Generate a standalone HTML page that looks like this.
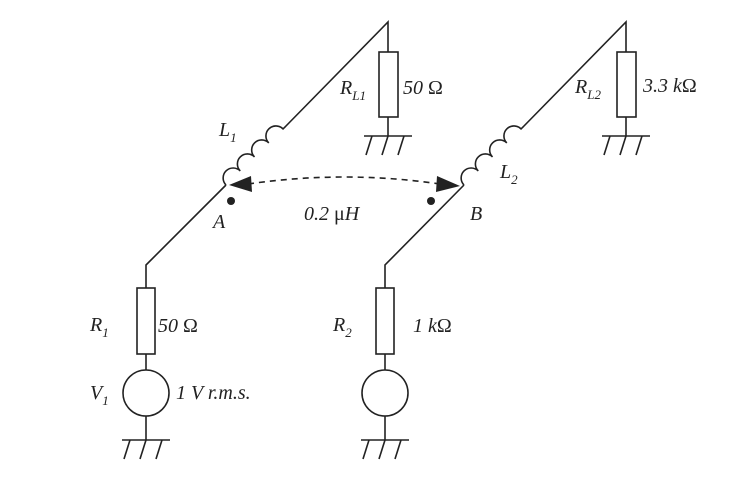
<!DOCTYPE html>
<html><head><style>body{margin:0;background:#fff}svg{display:block}text{font-family:"Liberation Serif",serif;font-style:italic;font-size:20px;fill:#222}.u{font-style:normal}</style></head><body>
<svg width="754" height="493" viewBox="0 0 754 493" xmlns="http://www.w3.org/2000/svg">
<defs>
<g id="gnd" stroke="#222" stroke-width="1.6" fill="none">
<line x1="-24" y1="0" x2="24" y2="0"/>
<line x1="-16" y1="0" x2="-22" y2="19"/><line x1="0" y1="0" x2="-6" y2="19"/><line x1="16" y1="0" x2="10" y2="19"/>
</g>
<g id="coil" stroke="#222" stroke-width="1.6" fill="none">
<path d="M0,0 a10,10 0 0 1 20,0 a10,10 0 0 1 20,0 a10,10 0 0 1 20,0 a10,10 0 0 1 20,0 l3,0"/>
</g>
</defs>
<g stroke="#222" stroke-width="1.6" fill="none">
<polyline points="146,288 146,265 226,185"/>
<rect x="137" y="288" width="18" height="66"/>
<line x1="146" y1="354" x2="146" y2="370"/>
<circle cx="146" cy="393" r="23"/>
<line x1="146" y1="416" x2="146" y2="440"/>
<polyline points="285,127 388,22 388,52"/>
<rect x="379" y="52" width="19" height="65"/>
<line x1="388" y1="117" x2="388" y2="136"/>
<polyline points="385,288 385,265 464,185"/>
<rect x="376" y="288" width="18" height="66"/>
<line x1="385" y1="354" x2="385" y2="370"/>
<circle cx="385" cy="393" r="23"/>
<line x1="385" y1="416" x2="385" y2="440"/>
<polyline points="523,127 626,22 626,52"/>
<rect x="617" y="52" width="19" height="65"/>
<line x1="626" y1="117" x2="626" y2="136"/>
<path d="M248,184 Q345,170 440,184" stroke-dasharray="6,5"/>
</g>
<use href="#coil" transform="translate(226,185) rotate(-44.5)"/>
<use href="#coil" transform="translate(464,185) rotate(-44.5)"/>
<use href="#gnd" transform="translate(146,440)"/>
<use href="#gnd" transform="translate(385,440)"/>
<use href="#gnd" transform="translate(388,136)"/>
<use href="#gnd" transform="translate(626,136)"/>
<polygon points="229,185 251,176 252,192" fill="#222"/>
<polygon points="460,186 437,176 436,192" fill="#222"/>
<circle cx="231" cy="201" r="4" fill="#222"/>
<circle cx="431" cy="201" r="4" fill="#222"/>
<text x="219" y="136">L<tspan font-size="13" dy="6">1</tspan></text>
<text x="340" y="94">R<tspan font-size="13" dy="6">L1</tspan></text>
<text x="403" y="94">50 <tspan class="u">Ω</tspan></text>
<text x="213" y="228">A</text>
<text x="304" y="220">0.2 <tspan class="u">μ</tspan>H</text>
<text x="470" y="220">B</text>
<text x="500" y="178">L<tspan font-size="13" dy="6">2</tspan></text>
<text x="575" y="93">R<tspan font-size="13" dy="6">L2</tspan></text>
<text x="643" y="92">3.3 k<tspan class="u">Ω</tspan></text>
<text x="90" y="331">R<tspan font-size="13" dy="6">1</tspan></text>
<text x="158" y="332">50 <tspan class="u">Ω</tspan></text>
<text x="90" y="399">V<tspan font-size="13" dy="6">1</tspan></text>
<text x="176" y="399">1 V r.m.s.</text>
<text x="333" y="331">R<tspan font-size="13" dy="6">2</tspan></text>
<text x="413" y="332">1 k<tspan class="u">Ω</tspan></text>
</svg>
</body></html>
